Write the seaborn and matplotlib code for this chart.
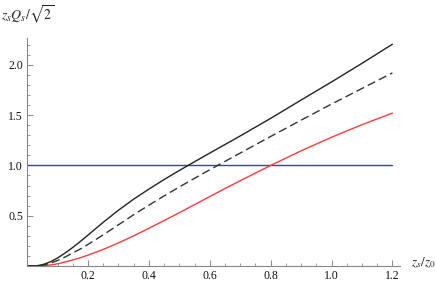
import numpy as np
import pandas as pd
import matplotlib
matplotlib.use('Agg')
import matplotlib.pyplot as plt
import seaborn as sns
from matplotlib.ticker import MultipleLocator, FixedLocator

# z_s / z_0 sample points
zs = [0.0, 0.03, 0.05, 0.075, 0.1, 0.125, 0.15, 0.175, 0.2, 0.25, 0.3, 0.35, 0.4,
      0.45, 0.5, 0.55, 0.6, 0.65, 0.7, 0.8, 0.9, 1.0, 1.1, 1.2]
black_solid = [0.0, 0.002, 0.012, 0.04, 0.08, 0.13, 0.185, 0.245, 0.308, 0.435, 0.555,
               0.665, 0.765, 0.86, 0.95, 1.037, 1.123, 1.208, 1.293, 1.468, 1.65,
               1.83, 2.015, 2.205]
black_dashed = [0.0, 0.001, 0.008, 0.026, 0.055, 0.09, 0.13, 0.17, 0.215, 0.31, 0.41,
                0.51, 0.605, 0.697, 0.786, 0.872, 0.957, 1.04, 1.123, 1.288, 1.45,
                1.61, 1.765, 1.92]
red_solid = [0.0, 0.0005, 0.003, 0.01, 0.022, 0.04, 0.06, 0.083, 0.108, 0.165, 0.23,
             0.30, 0.375, 0.452, 0.53, 0.61, 0.69, 0.77, 0.848, 1.0, 1.145, 1.28,
             1.405, 1.52]
level_x = [0.0, 1.2]
level_y = [1.0, 1.0]

sns.set_theme(style='ticks')
plt.rcParams['font.family'] = ['Liberation Serif', 'DejaVu Serif']
plt.rcParams['mathtext.fontset'] = 'stix'

df = pd.DataFrame({'zs': zs, 'solid': black_solid, 'dashed': black_dashed, 'red': red_solid})
lvl = pd.DataFrame({'zs': level_x, 'q': level_y})

fig = plt.figure(figsize=(4.36, 2.84), dpi=100)
ax = fig.add_axes([27.2 / 436, 18 / 284, (400 - 27.2) / 436, (266 - 37.7) / 284])

sns.lineplot(data=lvl, x='zs', y='q', ax=ax, color='#3a3acb', lw=1.0)
sns.lineplot(data=df, x='zs', y='red', ax=ax, color='#ff3a3a', lw=1.0)
sns.lineplot(data=df, x='zs', y='dashed', ax=ax, color='#333333', lw=1.0,
             linestyle=(0, (6, 3)))
sns.lineplot(data=df, x='zs', y='solid', ax=ax, color='#222222', lw=1.0)

ax.set_xlim(0, 1.225)
ax.set_ylim(0, 2.27)
ax.set_xlabel('')
ax.set_ylabel('')

ax.xaxis.set_major_locator(FixedLocator([0.2, 0.4, 0.6, 0.8, 1.0, 1.2]))
ax.xaxis.set_minor_locator(MultipleLocator(0.05))
ax.yaxis.set_major_locator(FixedLocator([0.5, 1.0, 1.5, 2.0]))
ax.yaxis.set_minor_locator(MultipleLocator(0.1))
ax.set_xticklabels(['0.2', '0.4', '0.6', '0.8', '1.0', '1.2'])
ax.set_yticklabels(['0.5', '1.0', '1.5', '2.0'])

for s in ['top', 'right']:
    ax.spines[s].set_visible(False)
for s in ['left', 'bottom']:
    ax.spines[s].set_color('#888888')
    ax.spines[s].set_linewidth(0.8)

ax.tick_params(which='major', direction='in', length=4, width=0.7, color='#888888',
               labelsize=8.5, pad=3, labelcolor='#111111')
ax.tick_params(which='minor', direction='in', length=2.2, width=0.6, color='#888888')

fig.text(1 / 436, 1 - 15 / 284, r'$z_s Q_s/\sqrt{2}$', fontsize=10, va='center', ha='left')
fig.text(411 / 436, 1 - 263 / 284, r'$z_s/z_0$', fontsize=9.5, va='center', ha='left')

fig.savefig('out.png', dpi=100)
